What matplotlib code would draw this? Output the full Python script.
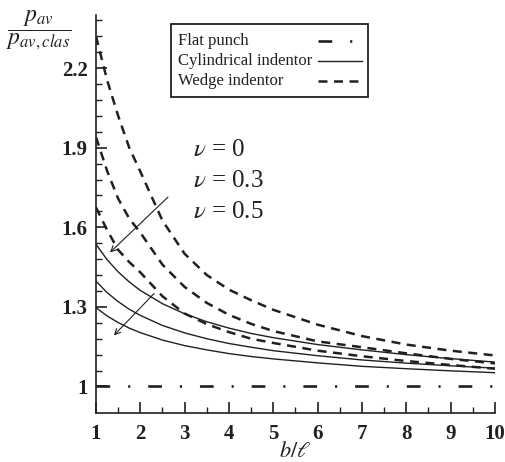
import numpy as np
import matplotlib.pyplot as plt
from matplotlib.ticker import FixedLocator
from matplotlib.lines import Line2D
from matplotlib.patches import Rectangle

plt.rcParams['font.family'] = ['Liberation Serif', 'DejaVu Serif']
plt.rcParams['mathtext.fontset'] = 'stix'

# b / l values where the curves were read
b_l = [1, 1.25, 1.5, 1.75, 2, 2.5, 3, 3.5, 4, 4.5, 5, 6, 7, 8, 9, 10]

# flat punch : p_av / p_av,clas = 1
flat = [1.0] * len(b_l)

# cylindrical indentor, nu = 0 / 0.3 / 0.5
cyl_nu0 = [1.536, 1.478, 1.432, 1.394, 1.362, 1.312, 1.274, 1.244, 1.22, 1.20, 1.184, 1.158, 1.138, 1.12, 1.105, 1.092]
cyl_nu03 = [1.397, 1.354, 1.320, 1.291, 1.268, 1.230, 1.202, 1.180, 1.162, 1.148, 1.135, 1.116, 1.100, 1.088, 1.078, 1.069]
cyl_nu05 = [1.297, 1.266, 1.241, 1.220, 1.203, 1.175, 1.154, 1.138, 1.124, 1.113, 1.104, 1.089, 1.076, 1.067, 1.059, 1.052]

# wedge indentor, nu = 0 / 0.3 / 0.5
wedge_nu0 = [2.32, 2.155, 2.02, 1.90, 1.81, 1.625, 1.50, 1.42, 1.365, 1.325, 1.289, 1.233, 1.19, 1.158, 1.135, 1.117]
wedge_nu03 = [1.94, 1.813, 1.708, 1.633, 1.58, 1.459, 1.375, 1.315, 1.27, 1.236, 1.209, 1.17, 1.148, 1.125, 1.104, 1.087]
wedge_nu05 = [1.675, 1.59, 1.515, 1.469, 1.43, 1.34, 1.275, 1.235, 1.205, 1.18, 1.164, 1.135, 1.114, 1.096, 1.081, 1.067]

nu_labels = [r'$\nu$ = 0', r'$\nu$ = 0.3', r'$\nu$ = 0.5']
legend_labels = ['Flat punch', 'Cylindrical indentor', 'Wedge indentor']
y_major = [1, 1.3, 1.6, 1.9, 2.2]
y_major_labels = ['1', '1.3', '1.6', '1.9', '2.2']

cor = '#231f20'
estilo_flat = dict(color=cor, lw=1.9, dashes=(5.2, 6.8, 0.8, 6.8))
estilo_cyl = dict(color=cor, lw=1.0)
estilo_wed = dict(color=cor, lw=1.8, dashes=(3.6, 2.6))

fig = plt.figure(figsize=(5.06, 4.62), dpi=100)
ax = fig.add_axes([0.1897, 0.106, 0.7885, 0.8615])

ax.plot(b_l, flat, **estilo_flat)
for ys in [cyl_nu0, cyl_nu03, cyl_nu05]:
    ax.plot(b_l, ys, **estilo_cyl)
for ys in [wedge_nu0, wedge_nu03, wedge_nu05]:
    ax.plot(b_l, ys, **estilo_wed)

ax.set_xlim(1, 10)
ax.set_ylim(0.9, 2.4)
ax.spines['top'].set_visible(False)
ax.spines['right'].set_visible(False)
for s in ['left', 'bottom']:
    ax.spines[s].set_linewidth(1.2)
    ax.spines[s].set_color(cor)

ax.xaxis.set_major_locator(FixedLocator(range(1, 11)))
ax.xaxis.set_minor_locator(FixedLocator(np.arange(1.5, 10, 1.0)))
ax.yaxis.set_major_locator(FixedLocator(y_major))
ax.set_yticklabels(y_major_labels)
ax.yaxis.set_minor_locator(FixedLocator([1 + 0.06 * k for k in range(24)]))
ax.tick_params(which='major', direction='in', length=8, width=1.2, color=cor,
               labelsize=15, pad=6, labelcolor=cor)
ax.tick_params(which='minor', direction='in', length=4.5, width=1.0, color=cor)
ax.tick_params(axis='x', pad=8)
for t in ax.get_xticklabels() + ax.get_yticklabels():
    t.set_fontweight('bold')

ax.set_xlabel(r'$b/\ell$', fontsize=16, color=cor, va='center')
ax.xaxis.set_label_coords(0.5, -0.097)
fig.text(0.077, 0.935, r'$\dfrac{p_{av}}{p_{av,clas}}$', fontsize=17,
         ha='center', va='center', color=cor)

for i, t in enumerate(nu_labels):
    ax.text(0.242, 0.66 - i * 0.078, t, transform=ax.transAxes, fontsize=18,
            ha='left', va='center', color=cor)

# setas indicando o aumento de nu
ax.annotate('', xy=(1.271, 1.498), xytext=(2.669, 1.721),
            arrowprops=dict(arrowstyle='->', lw=0.8, color=cor))
ax.annotate('', xy=(1.361, 1.185), xytext=(2.353, 1.358),
            arrowprops=dict(arrowstyle='->', lw=0.8, color=cor))

# legenda desenhada a mao (texto a esquerda, linha a direita)
ax.add_patch(Rectangle((0.188, 0.794), 0.494, 0.183, transform=ax.transAxes,
                       fill=True, facecolor='white', edgecolor=cor, lw=1.3,
                       zorder=5))
for i, (nome, est) in enumerate(zip(legend_labels, [estilo_flat, estilo_cyl, estilo_wed])):
    yy = 0.935 - i * 0.05
    ax.text(0.205, yy, nome, transform=ax.transAxes, fontsize=12,
            ha='left', va='center', color=cor, zorder=6)
    ax.add_line(Line2D([0.556, 0.667], [yy, yy], transform=ax.transAxes,
                       zorder=6, **est))

fig.savefig('out.png', dpi=100)
